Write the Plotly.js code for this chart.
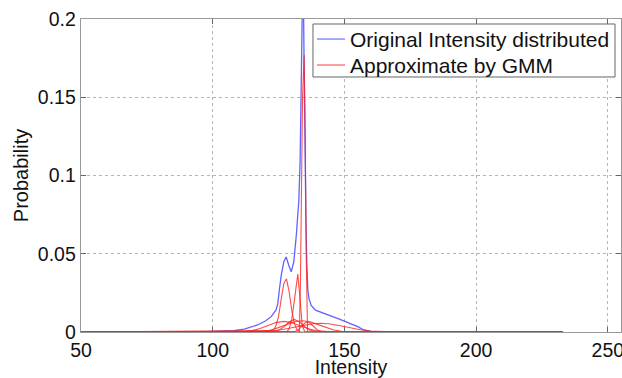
<!DOCTYPE html>
<html>
<head>
<meta charset="utf-8">
<script src="https://cdn.plot.ly/plotly-3.0.1.min.js"></script>
<style>html,body{margin:0;padding:0;background:#fff;}#chart{width:622px;height:378px;}</style>
</head>
<body>
<div id="chart"></div>
<script>
// Original intensity histogram (blue)
const origX = [95,100,105,108,112,117,120,122.2,124,124.7,125.3,126,127,127.9,128.8,129.8,130.8,131.7,132.7,133.2,133.7,134.3,134.7,135.0,135.4,135.7,136.1,136.6,137.4,139,142.4,145.5,148.8,152,155.1,157,160,165];
const origY = [0,0.0003,0.0005,0.0008,0.0018,0.0045,0.007,0.0098,0.014,0.018,0.027,0.036,0.045,0.048,0.043,0.0385,0.045,0.061,0.084,0.11,0.17,0.24,0.17,0.10,0.07,0.045,0.027,0.021,0.017,0.014,0.012,0.0098,0.0078,0.0055,0.0034,0.0015,0.0004,0];

// GMM components (red), each drawn over the fitted intensity range
const gmmStart = 50, gmmEnd = 233;
const compAX = [123,124,125,126,127,128,129,130,131,132,133];
const compAY = [0.001,0.004,0.010,0.021,0.031,0.034,0.026,0.014,0.0055,0.0015,0];
const compBX = [128,129,130,131,132,132.3,133,134,135];
const compBY = [0,0.002,0.008,0.020,0.036,0.037,0.024,0.004,0];
const compCX = [132.9,133.3,133.7,134.1,134.7,135.1,135.5,136.0];
const compCY = [0,0.03,0.09,0.15,0.177,0.13,0.05,0];
const compDX = [106,109,112,115,118,121,124,127,130,133,136,139,142,145,148];
const compDY = [0,0.0001,0.0003,0.0009,0.0022,0.0041,0.006,0.0068,0.006,0.0041,0.0022,0.0009,0.0003,0.0001,0];
const compEX = [113,116,119,122,125,128,131,134,137,140,143,146,149,152,155];
const compEY = [0,0.0002,0.0005,0.0013,0.0028,0.0047,0.0065,0.0072,0.0065,0.0047,0.0028,0.0013,0.0005,0.0002,0];
const compFX = [110,114,118,122,126,130,134,138,141,144,148,152,156,160,164,168,172];
const compFY = [0,0.0001,0.0002,0.0006,0.0014,0.0027,0.0041,0.0053,0.0056,0.0053,0.0041,0.0027,0.0014,0.0006,0.0002,0.0001,0];
const compGX = [121,123,125,127,129,131,133,135,137,139,141];
const compGY = [0,0.0002,0.0011,0.0033,0.0064,0.008,0.0064,0.0033,0.0011,0.0002,0];
const compHX = [130,131,132,133,134,135,136,137,138,139,140,141,142];
const compHY = [0,0.0003,0.0009,0.0021,0.004,0.0057,0.0065,0.0057,0.004,0.0021,0.0009,0.0003,0];

const xTicks = [50,100,150,200,250];
const yTicks = [0,0.05,0.1,0.15,0.2];
const yTickText = ['0','0.05','0.1','0.15','0.2'];
const legendNames = ['Original Intensity distributed', 'Approximate by GMM'];

const blueColor = 'rgba(70,70,255,0.85)';
const redColor = 'rgba(255,30,30,0.8)';

const comps = [
  [compAX,compAY],[compBX,compBY],[compCX,compCY],[compDX,compDY],
  [compEX,compEY],[compFX,compFY],[compGX,compGY],[compHX,compHY]
];

const font = 'Liberation Sans, Arial, sans-serif';
const traces = [{
  x: origX, y: origY, type: 'scatter', mode: 'lines',
  name: legendNames[0], showlegend: false,
  line: {color: blueColor, width: 1.3}
}];
comps.forEach((c) => {
  traces.push({
    x: [gmmStart].concat(c[0], [gmmEnd]),
    y: [0].concat(c[1], [0]),
    type: 'scatter', mode: 'lines',
    name: legendNames[1], showlegend: false,
    line: {color: redColor, width: 1.1}
  });
});

const axisCommon = {
  showline: true, linecolor: '#999', linewidth: 1.3, mirror: 'ticks',
  ticks: 'inside', ticklen: 5, tickcolor: '#666', tickwidth: 1,
  showgrid: true, gridcolor: '#b5b5b5', griddash: 'dot', gridwidth: 1,
  zeroline: false, ticklabeloverflow: 'allow',
  tickfont: {family: font, size: 19.5, color: '#111'}
};

// Legend box (paper coordinates of the plot area)
const lg = {x0: 0.4296, x1: 0.9889, y0: 0.8147, y1: 0.984, lx0: 0.437, lx1: 0.489, tx: 0.494, rows: [0.936, 0.853]};
const legendColors = [blueColor, redColor];

const shapes = [{
  type: 'rect', xref: 'paper', yref: 'paper', x0: lg.x0, x1: lg.x1, y0: lg.y0, y1: lg.y1,
  fillcolor: '#fff', line: {color: '#666', width: 1}, layer: 'above'
}];
const annotations = [];
legendNames.forEach((n, i) => {
  shapes.push({
    type: 'line', xref: 'paper', yref: 'paper', x0: lg.lx0, x1: lg.lx1, y0: lg.rows[i], y1: lg.rows[i],
    line: {color: legendColors[i], width: 1.1}, layer: 'above'
  });
  annotations.push({
    xref: 'paper', yref: 'paper', x: lg.tx, y: lg.rows[i], xanchor: 'left', yanchor: 'middle',
    text: n, showarrow: false, font: {family: font, size: 21, color: '#111'}
  });
});

const layout = {
  width: 622, height: 378,
  margin: {l: 81, r: 1, t: 19, b: 46},
  paper_bgcolor: '#fff', plot_bgcolor: '#fff',
  showlegend: false,
  shapes: shapes, annotations: annotations,
  xaxis: Object.assign({}, axisCommon, {
    range: [50, 255], tickvals: xTicks,
    title: {text: 'Intensity', font: {family: font, size: 19.5, color: '#111'}, standoff: 5}
  }),
  yaxis: Object.assign({}, axisCommon, {
    range: [0, 0.2], tickvals: yTicks, ticktext: yTickText,
    title: {text: 'Probability', font: {family: font, size: 20, color: '#111'}, standoff: 3}
  })
};

Plotly.newPlot('chart', traces, layout, {staticPlot: true, displayModeBar: false});
</script>
</body>
</html>
